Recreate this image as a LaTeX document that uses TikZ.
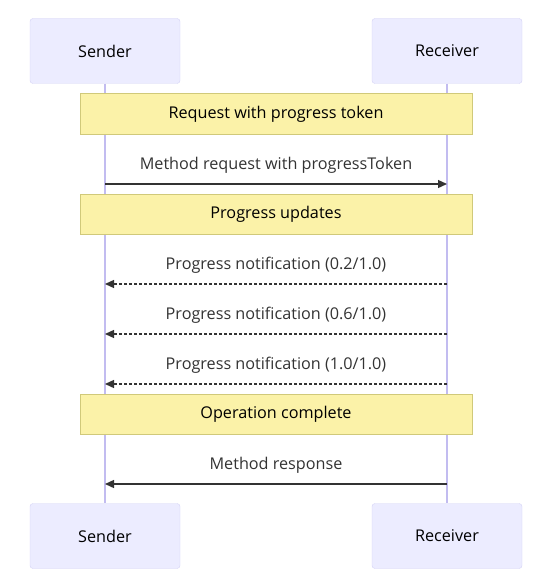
\documentclass[tikz,border=0pt]{standalone}
\usepackage{fontspec}
\setmainfont{Open Sans}
\usetikzlibrary{arrows.meta,positioning}
\usepackage{xcolor}
\definecolor{actorfill}{HTML}{ECECFF}
\definecolor{actorline}{HTML}{D4D2F5}
\definecolor{lifecol}{HTML}{C2BCF0}
\definecolor{notefill}{HTML}{FBF2A8}
\definecolor{noteline}{HTML}{D0C97A}
\definecolor{msgcol}{HTML}{333333}

\begin{document}
\begin{tikzpicture}[
  x=1pt, y=-1pt,
  font=\fontsize{16.2}{19}\selectfont,
  actor/.style={rectangle, rounded corners=3pt, draw=actorline, fill=actorfill, minimum width=150pt, minimum height=65pt},
  note/.style={rectangle, draw=noteline, fill=notefill, line width=1pt, minimum width=392pt, minimum height=40pt},
  lifeline/.style={draw=lifecol, line width=1.2pt},
  msg/.style={-{Triangle[length=9pt,width=8pt]}, draw=msgcol, line width=1.3pt},
  reply/.style={msg, dash pattern=on 3pt off 2pt},
  msglabel/.style={above=7pt, text=msgcol}
]
\useasboundingbox (0,0) rectangle (534,583);

% Teilnehmer
\node[actor] (sendT) at (105,51) {Sender};
\node[actor] (recvT) at (447,51) {Receiver};
\node[actor] (sendB) at (105,536) {Sender};
\node[actor] (recvB) at (447,536) {Receiver};

% Lebenslinien
\draw[lifeline] (sendT) -- (sendB);
\draw[lifeline] (recvT) -- (recvB);

% Notizen
\node[note] (req) at (276,114) {Request with progress token};
\node[note] (upd) at (276,214) {Progress updates};
\node[note] (done) at (276,414) {Operation complete};

% Nachrichten
\coordinate (s1) at (105,184);
\coordinate (r1) at (447,184);
\draw[msg] (s1) -- node[msglabel] {Method request with progressToken} (r1);

\coordinate (s2) at (105,284);
\coordinate (r2) at (447,284);
\draw[reply] (r2) -- node[msglabel] {Progress notification (0.2/1.0)} (s2);

\coordinate (s3) at (105,334);
\coordinate (r3) at (447,334);
\draw[reply] (r3) -- node[msglabel] {Progress notification (0.6/1.0)} (s3);

\coordinate (s4) at (105,384);
\coordinate (r4) at (447,384);
\draw[reply] (r4) -- node[msglabel] {Progress notification (1.0/1.0)} (s4);

\coordinate (s5) at (105,484);
\coordinate (r5) at (447,484);
\draw[msg] (r5) -- node[msglabel] {Method response} (s5);

\end{tikzpicture}
\end{document}
